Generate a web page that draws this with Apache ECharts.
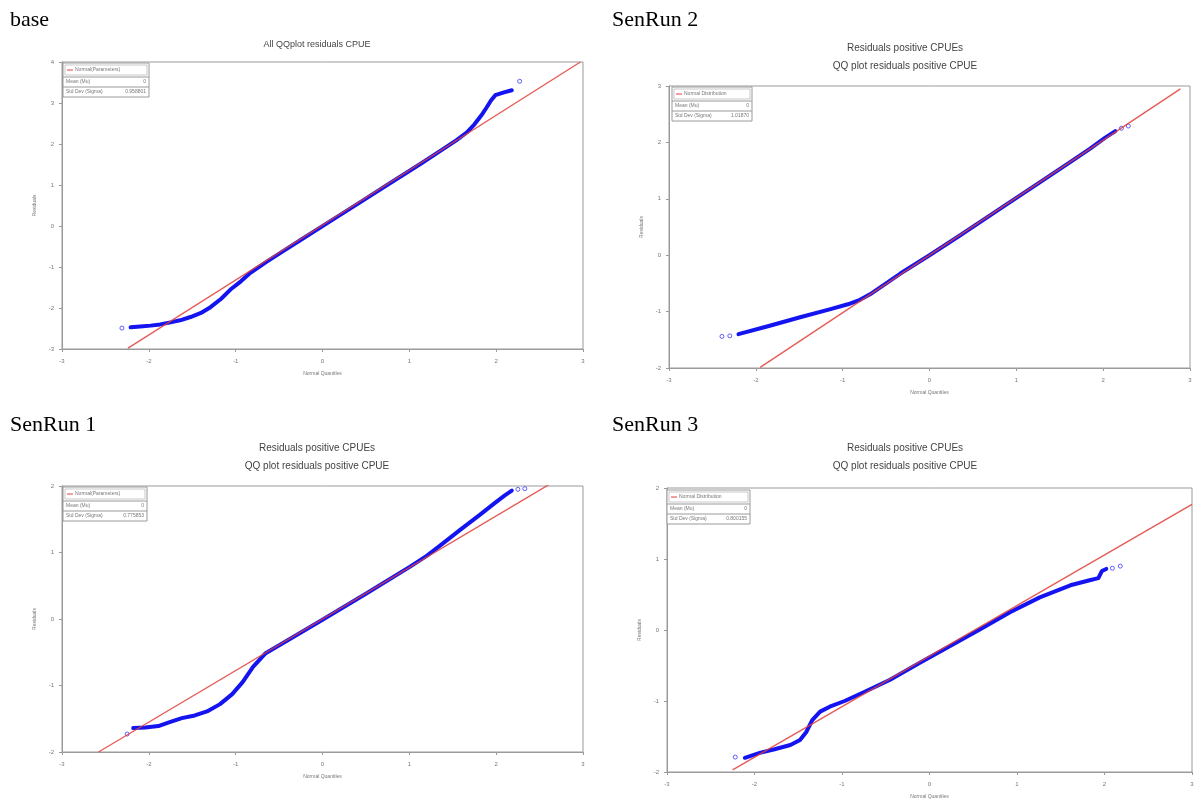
<!DOCTYPE html>
<html>
<head>
<meta charset="utf-8">
<script src="https://cdn.jsdelivr.net/npm/echarts@6/dist/echarts.min.js"></script>
<style>
html, body { margin: 0; background: #fff; }
#chart { width: 1201px; height: 801px; }
</style>
</head>
<body>
<div id="chart"></div>
<script>
"use strict";

// panel captions and titles
var panelNames = ['base', 'SenRun 2', 'SenRun 1', 'SenRun 3'];
var panelTitles = [
	['All QQplot residuals CPUE'],
	['Residuals positive CPUEs', 'QQ plot residuals positive CPUE'],
	['Residuals positive CPUEs', 'QQ plot residuals positive CPUE'],
	['Residuals positive CPUEs', 'QQ plot residuals positive CPUE']
];
var legendNames = ['Normal(Parameters)', 'Normal Distribution', 'Normal(Parameters)', 'Normal Distribution'];
var sigmaText = ['0.958801', '1.01870', '0.775853', '0.800155'];

// y axis ranges (x axis is -3..3 on every panel)
var yMin = [-3, -2, -2, -2];
var yMax = [4, 3, 2, 2];

// residual quantiles (blue)
var baseQQ = [[-2.21,-2.47],[-2.10,-2.45],[-1.98,-2.43],[-1.87,-2.40],[-1.75,-2.35],[-1.64,-2.30],[-1.52,-2.22],
	[-1.40,-2.12],[-1.29,-1.98],[-1.17,-1.78],[-1.06,-1.55],[-0.94,-1.35],[-0.83,-1.14],[-0.65,-0.88],[-0.48,-0.65],
	[-0.23,-0.31],[0.10,0.13],[0.45,0.60],[0.79,1.06],[1.14,1.53],[1.37,1.85],[1.54,2.09],[1.66,2.28],[1.75,2.48],
	[1.83,2.70],[1.89,2.89],[1.94,3.06],[1.99,3.19],[2.09,3.26],[2.18,3.31]];
var baseOut = [[-2.31,-2.49],[2.27,3.53]];
var baseRef = [[-2.24,-2.98],[2.97,4.0]];

var run2QQ = [[-2.20,-1.40],[-1.84,-1.25],[-1.49,-1.10],[-1.15,-0.96],[-0.94,-0.87],[-0.80,-0.79],[-0.68,-0.69],
	[-0.34,-0.33],[0.00,0.00],[0.35,0.35],[0.81,0.82],[1.27,1.29],[1.62,1.65],[1.85,1.89],[2.02,2.08],[2.14,2.20]];
var run2Out = [[-2.39,-1.44],[-2.30,-1.43],[2.21,2.25],[2.29,2.29]];
var run2Ref = [[-1.95,-1.99],[2.89,2.95]];

var run1QQ = [[-2.18,-1.64],[-2.04,-1.63],[-1.89,-1.61],[-1.76,-1.55],[-1.62,-1.49],[-1.47,-1.45],[-1.33,-1.39],
	[-1.18,-1.28],[-1.04,-1.13],[-0.92,-0.95],[-0.80,-0.72],[-0.66,-0.52],[-0.40,-0.32],[0.00,-0.01],[0.50,0.38],
	[1.00,0.78],[1.20,0.95],[1.35,1.10],[1.585,1.34],[1.815,1.57],[1.99,1.75],[2.10,1.86],[2.18,1.93]];
var run1Out = [[-2.25,-1.73],[2.25,1.95],[2.33,1.96]];
var run1Ref = [[-2.58,-2.0],[2.62,2.03]];

var run3QQ = [[-2.11,-1.80],[-1.94,-1.73],[-1.77,-1.68],[-1.59,-1.62],[-1.48,-1.55],[-1.41,-1.44],[-1.34,-1.27],
	[-1.25,-1.15],[-1.14,-1.08],[-0.97,-1.00],[-0.74,-0.87],[-0.45,-0.70],[-0.11,-0.46],[0.23,-0.23],[0.58,0.01],
	[0.92,0.25],[1.26,0.46],[1.61,0.63],[1.83,0.70],[1.93,0.73],[1.97,0.83],[2.02,0.86]];
var run3Out = [[-2.22,-1.79],[2.09,0.87],[2.18,0.90]];
var run3Ref = [[-2.25,-1.97],[3.0,1.77]];

var qqData = [baseQQ, run2QQ, run1QQ, run3QQ];
var outData = [baseOut, run2Out, run1Out, run3Out];
var refData = [baseRef, run2Ref, run1Ref, run3Ref];

// layout
var grids = [
	{ left: 62, top: 62, width: 521, height: 287 },
	{ left: 669, top: 86, width: 521, height: 282 },
	{ left: 62, top: 486, width: 521, height: 266 },
	{ left: 667, top: 488, width: 525, height: 284 }
];
var captionPos = [[10, 20], [612, 20], [10, 425], [612, 425]];
var titlePos = [[317, 45], [905, 48], [317, 448], [905, 448]];
var boxPos = [[63, 63, 86], [672, 87, 80], [63, 487, 84], [667, 490, 83]];

var SMALL_FONT = 'Liberation Sans, Arial, sans-serif';

function txt(x, y, s, size, color, align, family) {
	return {
		type: 'text', x: x, y: y, silent: true,
		style: {
			text: s, fill: color, fontSize: size, fontFamily: family || SMALL_FONT,
			textAlign: align || 'left', align: align || 'left',
			textVerticalAlign: 'middle', verticalAlign: 'middle'
		}
	};
}

function statBox(p, name, sigma) {
	var x = p[0], y = p[1], w = p[2];
	var h1 = 14, h2 = 10, h3 = 10;
	var line = { stroke: '#9a9a9a', lineWidth: 1 };
	return [
		{ type: 'rect', silent: true, z: 10, shape: { x: x, y: y, width: w, height: h1 + h2 + h3 }, style: { fill: '#fff', stroke: '#9a9a9a', lineWidth: 1 } },
		{ type: 'rect', silent: true, z: 11, shape: { x: x + 2, y: y + 2, width: w - 4, height: h1 - 4 }, style: { fill: 'none', stroke: '#bbb', lineWidth: 0.8 } },
		{ type: 'line', silent: true, z: 11, shape: { x1: x, y1: y + h1, x2: x + w, y2: y + h1 }, style: line },
		{ type: 'line', silent: true, z: 11, shape: { x1: x, y1: y + h1 + h2, x2: x + w, y2: y + h1 + h2 }, style: line },
		{ type: 'line', silent: true, z: 11, shape: { x1: x + 4, y1: y + 7, x2: x + 10, y2: y + 7 }, style: { stroke: '#e0403a', lineWidth: 1 } },
		Object.assign(txt(x + 12, y + 7, name, 5, '#777'), { z: 12 }),
		Object.assign(txt(x + 3, y + h1 + h2 / 2, 'Mean (Mu)', 5, '#777'), { z: 12 }),
		Object.assign(txt(x + w - 3, y + h1 + h2 / 2, '0', 5, '#777', 'right'), { z: 12 }),
		Object.assign(txt(x + 3, y + h1 + h2 + h3 / 2, 'Std Dev (Sigma)', 5, '#777'), { z: 12 }),
		Object.assign(txt(x + w - 3, y + h1 + h2 + h3 / 2, sigma, 5, '#777', 'right'), { z: 12 })
	];
}

var chart = echarts.init(document.getElementById('chart'));

var gridOpts = [], xAxes = [], yAxes = [], series = [], graphics = [];

for (var i = 0; i < 4; i++) {
	gridOpts.push(Object.assign({ show: true, borderColor: '#9a9a9a', borderWidth: 1, backgroundColor: '#fff' }, grids[i]));

	xAxes.push({
		type: 'value', gridIndex: i, min: -3, max: 3, interval: 1,
		name: 'Normal Quantiles', nameLocation: 'middle', nameGap: 22,
		nameTextStyle: { fontSize: 5, color: '#777', fontFamily: SMALL_FONT },
		axisLine: { show: true, onZero: false, lineStyle: { color: '#9a9a9a' } },
		axisTick: { show: true, length: 3, lineStyle: { color: '#9a9a9a' } },
		axisLabel: { fontSize: 6, color: '#777', margin: 9, fontFamily: SMALL_FONT },
		splitLine: { show: false }
	});
	yAxes.push({
		type: 'value', gridIndex: i, min: yMin[i], max: yMax[i], interval: 1,
		name: 'Residuals', nameLocation: 'middle', nameGap: 25, nameRotate: 90,
		nameTextStyle: { fontSize: 5, color: '#777', fontFamily: SMALL_FONT },
		axisLine: { show: true, onZero: false, lineStyle: { color: '#9a9a9a' } },
		axisTick: { show: true, length: 3, lineStyle: { color: '#9a9a9a' } },
		axisLabel: { fontSize: 6, color: '#777', margin: 8, fontFamily: SMALL_FONT },
		splitLine: { show: false }
	});

	series.push({
		type: 'line', xAxisIndex: i, yAxisIndex: i, data: qqData[i],
		symbol: 'none', silent: true, z: 2,
		lineStyle: { color: '#1414f0', width: 4, cap: 'round', join: 'round' }
	});
	series.push({
		type: 'scatter', xAxisIndex: i, yAxisIndex: i, data: outData[i],
		symbol: 'circle', symbolSize: 4, silent: true, z: 2,
		itemStyle: { color: 'rgba(0,0,0,0)', borderColor: '#3a3aff', borderWidth: 1 }
	});
	series.push({
		type: 'line', xAxisIndex: i, yAxisIndex: i, data: refData[i],
		symbol: 'none', silent: true, z: 3,
		lineStyle: { color: '#e0403a', width: 1.4, opacity: 0.85 }
	});

	graphics.push(txt(captionPos[i][0], captionPos[i][1], panelNames[i], 22, '#000', 'left', 'Liberation Serif, Times New Roman, serif'));
	for (var t = 0; t < panelTitles[i].length; t++) {
		graphics.push(txt(titlePos[i][0], titlePos[i][1] + t * 18, panelTitles[i][t], i === 0 ? 9 : 10, '#444', 'center'));
	}
	graphics = graphics.concat(statBox(boxPos[i], legendNames[i], sigmaText[i]));
}

chart.setOption({
	animation: false,
	backgroundColor: '#fff',
	grid: gridOpts,
	xAxis: xAxes,
	yAxis: yAxes,
	series: series,
	graphic: { elements: graphics }
});
</script>
</body>
</html>
